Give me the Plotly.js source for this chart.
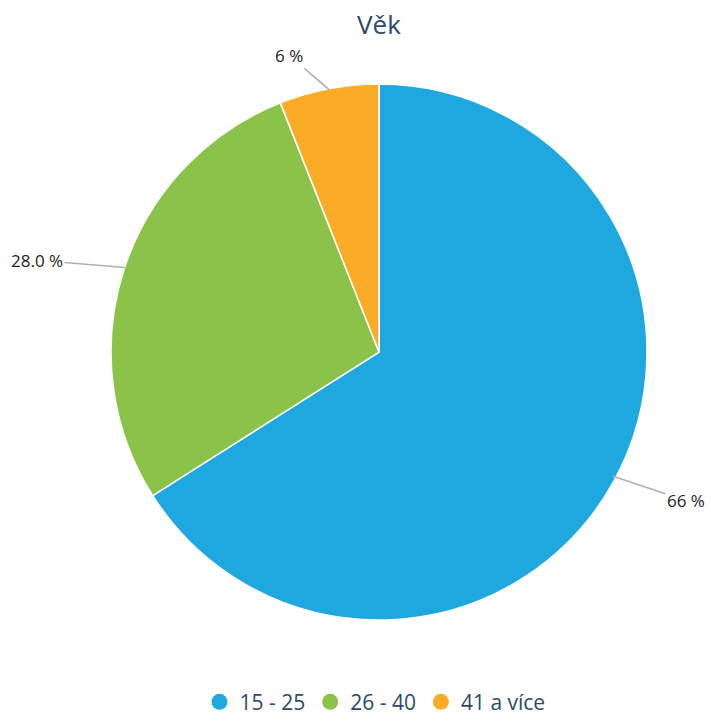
<!DOCTYPE html>
<html><head><meta charset="utf-8">
<script src="https://cdn.plot.ly/plotly-3.0.1.min.js"></script>
<style>html,body{margin:0;padding:0;background:#fff}#chart{width:711px;height:723px}</style>
</head><body><div id="chart"></div>
<script>
const categories = ["15 - 25", "26 - 40", "41 a více"];
const values = [66, 28, 6];
const valueLabels = ["66 %", "28.0 %", "6 %"];
const colors = ["#1fa8e0", "#8bc34a", "#fbab26"];
const titleText = "Věk";

const W = 711, H = 723;
const dom = {x: [108 / W, 650 / W], y: [1 - 627 / H, 1 - 85 / H]};
const cx = (dom.x[0] + dom.x[1]) / 2 * W;
const cy = (1 - (dom.y[0] + dom.y[1]) / 2) * H - 3;
const r = (dom.x[1] - dom.x[0]) * W / 2 - 4;

const total = values.reduce((a, b) => a + b, 0);
let cum = 0;
const annotations = [];
values.forEach((v, i) => {
  const mid = (cum + v / 2) / total * 2 * Math.PI;
  cum += v;
  const s = Math.sin(mid), c = Math.cos(mid);
  const ex = cx + r * s, ey = cy - r * c;
  const side = s >= 0 ? 1 : -1;
  const ax = 40 * s + side * (14 + 6 * valueLabels[i].length);
  const ay = -40 * c + 5;
  annotations.push({
    x: ex / W, y: 1 - ey / H, xref: "paper", yref: "paper",
    text: valueLabels[i], showarrow: true, arrowhead: 0, arrowwidth: 1.6,
    arrowcolor: "#b0b0b0", ax: ax, ay: ay,
    font: {family: "Open Sans, DejaVu Sans, sans-serif", size: 17, color: "#222222"}
  });
});

const pie = {
  type: "pie", labels: categories, values: values, sort: false,
  direction: "clockwise", rotation: 0, textinfo: "none", hoverinfo: "label+percent",
  marker: {colors: colors, line: {color: "#ffffff", width: 1.5}},
  domain: dom, showlegend: false
};
const legendTraces = categories.map((c, i) => ({
  type: "scatter", mode: "markers", x: [null], y: [null], name: c,
  marker: {color: colors[i], size: 16, symbol: "circle"}, showlegend: true,
  hoverinfo: "skip"
}));

const layout = {
  width: W, height: H,
  margin: {l: 0, r: 0, t: 0, b: 0},
  paper_bgcolor: "#ffffff", plot_bgcolor: "#ffffff",
  title: {text: titleText, x: 379 / W, xanchor: "center", y: 1 - 25 / H, yanchor: "middle",
    font: {family: "Open Sans, DejaVu Sans, sans-serif", size: 26, color: "#2c4a6b"}},
  xaxis: {visible: false}, yaxis: {visible: false},
  legend: {orientation: "h", x: 375 / W, xanchor: "center", y: 1 - 710 / H, yanchor: "middle",
    font: {family: "Open Sans, DejaVu Sans, sans-serif", size: 21, color: "#2c4a6b"},
    itemwidth: 30},
  annotations: annotations
};
Plotly.newPlot("chart", [pie].concat(legendTraces), layout, {displayModeBar: false, staticPlot: true});
</script></body></html>
